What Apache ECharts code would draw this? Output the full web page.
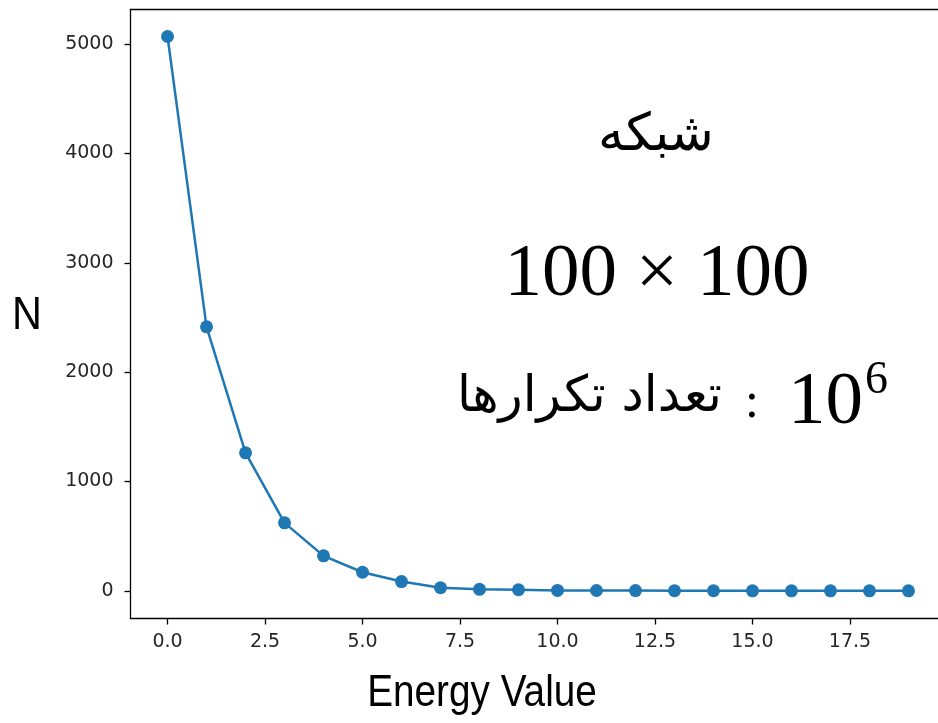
<!DOCTYPE html>
<html>
<head>
<meta charset="utf-8">
<script src="https://cdn.jsdelivr.net/npm/echarts@6/dist/echarts.min.js"></script>
<style>html,body{margin:0;padding:0;background:#fff}#c{width:938px;height:723px}</style>
</head>
<body>
<div id="c"></div>
<script>
var energy = [0,1,2,3,4,5,6,7,8,9,10,11,12,13,14,15,16,17,18,19];
var counts = [5070,2415,1262,622,320,170,85,28,14,10,4,3,2,1,1,0,0,0,0,0];
var xTicks = [0,2.5,5,7.5,10,12.5,15,17.5];
var yTicks = [0,1000,2000,3000,4000,5000];
var xLabel = 'Energy Value';
var yLabel = 'N';
var line1 = 'شبکه';
var line2 = '100 × 100';
var line3 = 'تعداد تکرارها';

var chart = echarts.init(document.getElementById('c'));
var tickFont = {fontFamily:'DejaVu Sans', fontSize:19, color:'#262626'};
var axisLineStyle = {color:'#000', width:1.3};
chart.setOption({
  animation:false,
  grid:{left:130.5, top:9.5, right:0, height:609, show:false},
  xAxis:[{type:'value', min:-0.95, max:19.757,
    axisLine:{show:true, onZero:false, lineStyle:axisLineStyle},
    axisTick:{show:true, length:6, customValues:xTicks, lineStyle:axisLineStyle},
    axisLabel:Object.assign({customValues:xTicks, margin:14, formatter:function(v){return v.toFixed(1);}}, tickFont),
    splitLine:{show:false}},
    {type:'value', position:'top', min:-0.95, max:19.757,
    axisLine:{show:true, onZero:false, lineStyle:axisLineStyle},
    axisTick:{show:false}, axisLabel:{show:false}, splitLine:{show:false}}],
  yAxis:{type:'value', min:-253, max:5317,
    axisLine:{show:true, onZero:false, lineStyle:axisLineStyle},
    axisTick:{show:true, length:6, customValues:yTicks, lineStyle:axisLineStyle},
    axisLabel:Object.assign({customValues:yTicks, margin:17, formatter:function(v){return String(v);}}, tickFont),
    splitLine:{show:false}},
  series:[{type:'line', data:energy.map(function(e,i){return [e, counts[i]];}),
    symbol:'circle', symbolSize:13, showSymbol:true,
    lineStyle:{color:'#1f77b4', width:2.5}, itemStyle:{color:'#1f77b4'}}],
  graphic:[
    {type:'text', x:27, y:316, scaleX:0.9, style:{text:yLabel, align:'center', verticalAlign:'middle', font:'46px "Liberation Sans"', fill:'#000'}},
    {type:'text', x:482, y:694, scaleX:0.88, style:{text:xLabel, align:'center', verticalAlign:'middle', font:'44px "Liberation Sans"', fill:'#000'}},
    {type:'text', x:656, y:136, style:{text:line1, align:'center', verticalAlign:'middle', font:'52px "DejaVu Sans"', fill:'#000'}},
    {type:'text', x:657, y:275, style:{text:line2, align:'center', verticalAlign:'middle', font:'75px "Liberation Serif"', fill:'#000'}},
    {type:'text', x:722, y:398, style:{text:line3, align:'right', verticalAlign:'middle', font:'50px "DejaVu Sans"', fill:'#000'}},
    {type:'text', x:752, y:404, style:{text:':', align:'center', verticalAlign:'middle', font:'50px "Liberation Serif"', fill:'#000'}},
    {type:'text', x:788, y:403, style:{text:'10', align:'left', verticalAlign:'middle', font:'75px "Liberation Serif"', fill:'#000'}},
    {type:'text', x:865, y:381, style:{text:'6', align:'left', verticalAlign:'middle', font:'46px "Liberation Serif"', fill:'#000'}}
  ]
});
</script>
</body>
</html>
